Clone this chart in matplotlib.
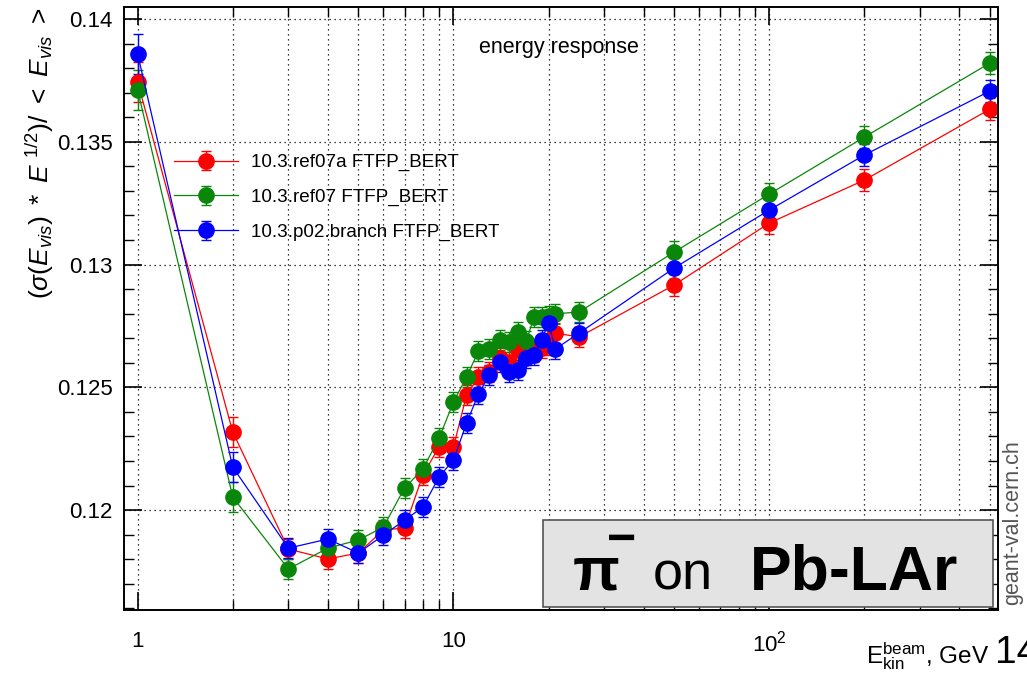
import numpy as np
import matplotlib
matplotlib.use('Agg')
import matplotlib.pyplot as plt
from matplotlib.ticker import LogLocator, MultipleLocator, FixedLocator, NullFormatter
from matplotlib.patches import Rectangle

plt.rcParams['font.family'] = ['Liberation Sans', 'DejaVu Sans']
plt.rcParams['mathtext.fontset'] = 'custom'
plt.rcParams['mathtext.rm'] = 'Liberation Sans'
plt.rcParams['mathtext.it'] = 'Liberation Sans:italic'
plt.rcParams['mathtext.bf'] = 'Liberation Sans:bold'

# beam kinetic energy, GeV
energy = [1, 2, 3, 4, 5, 6, 7, 8, 9, 10, 11, 12, 13, 14, 15, 16, 17, 18, 19, 20, 21, 25,
          50, 100, 200, 500]

ref07a = [0.13743, 0.12318, 0.11841, 0.11801, 0.11825, 0.11919, 0.11927, 0.12143, 0.12257,
          0.12257, 0.12469, 0.12542, 0.12562, 0.12619, 0.12603, 0.12652, 0.12632, 0.12644,
          0.12660, 0.12672, 0.12721, 0.12705, 0.12917, 0.13169, 0.13344, 0.13633]
ref07 = [0.13711, 0.12053, 0.11760, 0.11845, 0.11878, 0.11931, 0.12090, 0.12167, 0.12293,
         0.12440, 0.12542, 0.12648, 0.12656, 0.12693, 0.12685, 0.12725, 0.12689, 0.12786,
         0.12786, 0.12790, 0.12799, 0.12807, 0.13051, 0.13287, 0.13519, 0.13821]
p02 = [0.13857, 0.12175, 0.11845, 0.11882, 0.11825, 0.11898, 0.11959, 0.12012, 0.12135,
       0.12204, 0.12354, 0.12473, 0.12550, 0.12603, 0.12562, 0.12570, 0.12619, 0.12631,
       0.12693, 0.12762, 0.12656, 0.12721, 0.12986, 0.13222, 0.13446, 0.13707]
err = [0.0008, 0.0006, 0.0004, 0.0004, 0.0004, 0.0004, 0.0004, 0.0004, 0.0004, 0.0004,
       0.0004, 0.0004, 0.0004, 0.0004, 0.0004, 0.0004, 0.0004, 0.0004, 0.0004, 0.0004,
       0.0004, 0.0004, 0.00045, 0.00045, 0.00045, 0.00045]

series = [
    ('10.3.ref07a FTFP_BERT', ref07a, '#ff0000'),
    ('10.3.ref07 FTFP_BERT', ref07, '#0a870a'),
    ('10.3.p02.branch FTFP_BERT', p02, '#0000ff'),
]

W, H = 1027, 678
fig = plt.figure(figsize=(W / 100, H / 100), dpi=100)
ax = fig.add_axes([124 / W, 1 - 610 / H, (998 - 124) / W, (610 - 7) / H])

for label, vals, col in series:
    ax.errorbar(energy, vals, yerr=err, color=col, marker='o', markersize=11,
                linewidth=0.9, elinewidth=1.0, capsize=3.5, capthick=1.0, label=label)

ax.set_xscale('log')
ax.set_xlim(0.905, 530)
ax.set_ylim(0.11593, 0.14049)

ax.xaxis.set_major_locator(FixedLocator([1, 10, 100]))
ax.xaxis.set_minor_locator(LogLocator(base=10, subs=np.arange(2, 10)))
ax.xaxis.set_minor_formatter(NullFormatter())
ax.set_xticks([1, 10, 100])
ax.set_xticklabels(['1', '10', '$10^2$'])
ax.yaxis.set_major_locator(MultipleLocator(0.005))
ax.yaxis.set_minor_locator(MultipleLocator(0.001))
ax.yaxis.set_major_formatter(plt.FuncFormatter(lambda v, p: ('%.3f' % v).rstrip('0')))

ax.tick_params(which='both', direction='in', top=True, right=True, labelsize=16, pad=8)
ax.tick_params(which='major', length=13, width=1.2)
ax.tick_params(which='minor', length=7, width=1.0)
ax.tick_params(axis='x', which='major', pad=15)
for sp in ax.spines.values():
    sp.set_linewidth(1.4)

ax.grid(True, which='major', axis='y', linestyle=(0, (1, 3)), color='black', linewidth=0.9)
ax.grid(True, which='both', axis='x', linestyle=(0, (1, 3)), color='black', linewidth=0.9)

leg = ax.legend(loc='upper left', bbox_to_anchor=(0.046, 0.772), frameon=False, fontsize=13.6,
                handlelength=3.4, handletextpad=0.7, labelspacing=0.92, borderpad=0)

ax.text(559 / W, 1 - 47 / H, 'energy response', transform=fig.transFigure, ha='center',
        va='center', fontsize=15.5)

fig.text(40 / W, 1 - 8 / H, r'$(\sigma(E_{vis})\ *\ E^{\ 1/2})/\ <\ E_{vis}\ >$', rotation=90,
         ha='center', va='top', fontsize=19)

fig.text(866 / W, 1 - 656 / H, r'$\mathrm{E_{kin}^{beam}}$, GeV', ha='left', va='center',
         fontsize=17.5)
fig.text(995 / W, 1 - 653 / H, '14', ha='left', va='center', fontsize=28)

fig.text(1013 / W, 1 - 523 / H, 'geant-val.cern.ch', rotation=90, ha='center', va='center',
         fontsize=15.5, color='#555555')

fig.patches.append(Rectangle((543 / W, 1 - 607 / H), (993 - 543) / W, (607 - 520) / H,
                             transform=fig.transFigure, facecolor='#e3e3e3',
                             edgecolor='#555555', linewidth=1.2, zorder=5))
fig.text(573 / W, 1 - 589 / H, 'π', ha='left', va='baseline', fontsize=44, fontweight='bold',
         zorder=6)
fig.text(622 / W, 1 - 541 / H, '−', ha='center', va='center', fontsize=36, fontweight='bold',
         zorder=6)
fig.text(653 / W, 1 - 589 / H, 'on', ha='left', va='baseline', fontsize=39, zorder=6)
fig.text(750 / W, 1 - 589 / H, 'Pb-LAr', ha='left', va='baseline', fontsize=45,
         fontweight='bold', zorder=6)

fig.savefig('out.png', dpi=100)
